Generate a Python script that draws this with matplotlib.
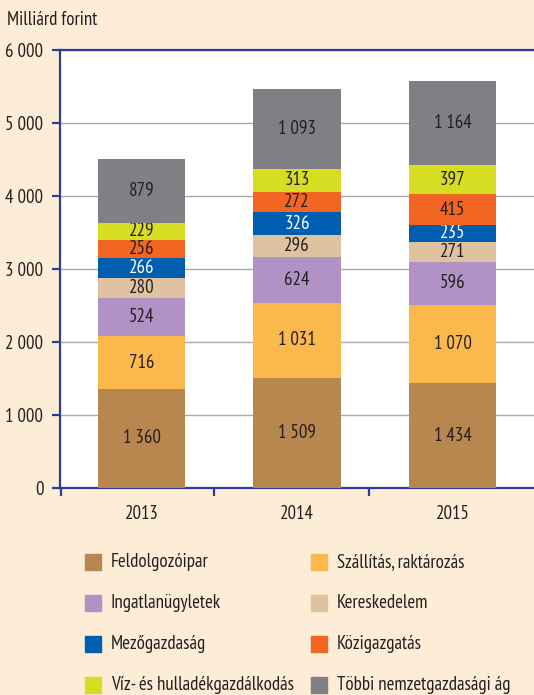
import matplotlib
matplotlib.use('Agg')
import matplotlib.pyplot as plt
from matplotlib.patches import Rectangle

# --- data ---
years = ["2013", "2014", "2015"]
sectors = ["Feldolgozóipar", "Szállítás, raktározás", "Ingatlanügyletek",
           "Kereskedelem", "Mezőgazdaság", "Közigazgatás",
           "Víz- és hulladékgazdálkodás", "Többi nemzetgazdasági ág"]
feldolgozoipar = [1360, 1509, 1434]
szallitas = [716, 1031, 1070]
ingatlan = [524, 624, 596]
kereskedelem = [280, 296, 271]
mezogazdasag = [266, 326, 235]
kozigazgatas = [256, 272, 415]
viz = [229, 313, 397]
tobbi = [879, 1093, 1164]
yticks = [0, 1000, 2000, 3000, 4000, 5000, 6000]

series = [feldolgozoipar, szallitas, ingatlan, kereskedelem,
          mezogazdasag, kozigazgatas, viz, tobbi]
colors = ["#B8864F", "#FBB84D", "#B093C4", "#DFC2A0",
          "#005EB0", "#F26522", "#D6DE23", "#808084"]
label_colors = ["#231F20"] * 4 + ["white"] + ["#231F20"] * 3

plt.rcParams['font.family'] = ['PT Sans Narrow', 'Liberation Sans Narrow',
                               'DejaVu Sans']
FS = 13.6

BG = "#FDEDD6"
BLUE = "#2E3D98"
TXT = "#231F20"
W, H = 534, 695

fig = plt.figure(figsize=(W / 100, H / 100), dpi=100, facecolor=BG)
ax = fig.add_axes([60 / W, 1 - 488 / H, 1 - 60 / W, (488 - 50) / H])
ax.set_facecolor("white")


def fmt(v):
    return f"{v:,}".replace(",", " ")


x = range(len(years))
bottom = [0, 0, 0]
for vals, col, lc in zip(series, colors, label_colors):
    bars = ax.bar(x, vals, width=0.56, bottom=bottom, color=col, zorder=3)
    ax.bar_label(bars, labels=[fmt(v) for v in vals], label_type='center',
                 color=lc, fontsize=FS)
    bottom = [b + v for b, v in zip(bottom, vals)]

ax.set_xlim(-0.524, 2.524)
ax.set_ylim(0, 6000)
ax.set_yticks(yticks)
ax.set_yticklabels([fmt(t) for t in yticks])
ax.yaxis.grid(True, color="#A7A9AC", linewidth=1, zorder=0)
ax.set_axisbelow(True)

# ticks at category boundaries, labels at centres
ax.set_xticks([-0.52, 0.466, 1.463])
ax.set_xticklabels([])
ax.set_xticks(list(x), minor=True)
ax.set_xticklabels(years, minor=True)
ax.tick_params(axis='x', which='major', direction='out', length=6,
               width=1.6, color=BLUE)
ax.tick_params(axis='x', which='minor', length=0, pad=12,
               labelsize=FS, labelcolor=TXT)
ax.tick_params(axis='y', direction='out', length=6, width=1.6, color=BLUE,
               pad=6, labelsize=FS, labelcolor=TXT)

for s in ["left", "bottom", "top"]:
    ax.spines[s].set_color(BLUE)
    ax.spines[s].set_linewidth(1.6)
ax.spines["right"].set_visible(False)

fig.text(7 / W, 1 - 20 / H, "Milliárd forint", fontsize=FS, color=TXT,
         va='center', ha='left')

# legend, filled row by row
for i, (name, col) in enumerate(zip(sectors, colors)):
    row, c = divmod(i, 2)
    sx = [85, 311][c]
    tx = [111, 337][c]
    yc = 562 + row * 41
    fig.patches.append(Rectangle((sx / W, 1 - (yc + 8) / H), 16 / W, 16 / H,
                                 transform=fig.transFigure, color=col))
    fig.text(tx / W, 1 - yc / H, name, fontsize=FS, color=TXT,
             va='center', ha='left')

fig.savefig("out.png", dpi=100, facecolor=BG)
